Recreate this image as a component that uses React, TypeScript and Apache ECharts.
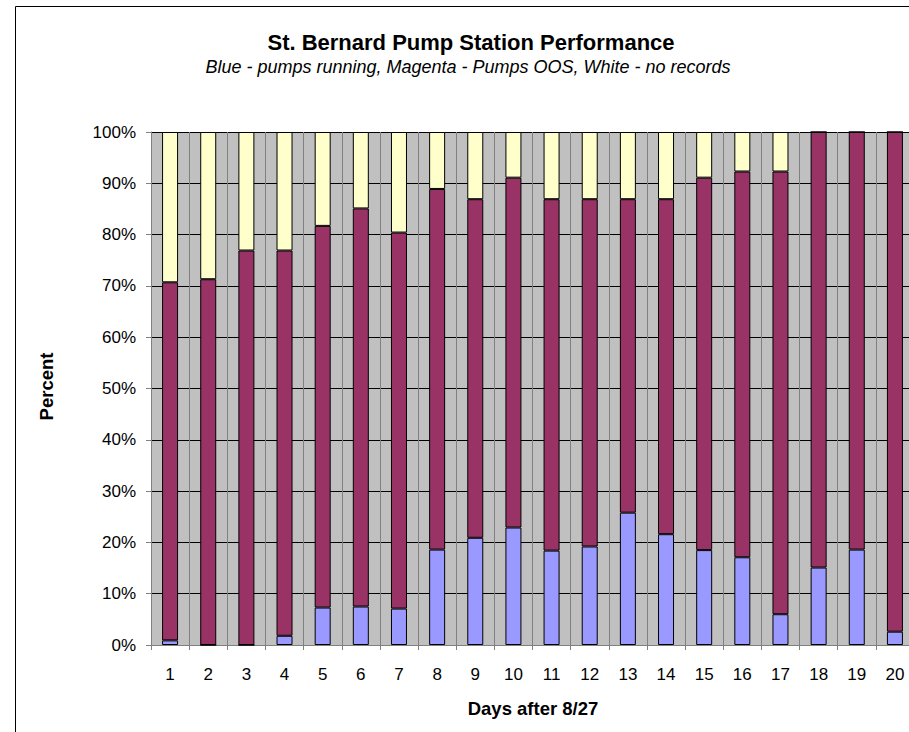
import React, { useEffect, useRef } from "react";
import * as echarts from "echarts";

const days: string[] = ["1","2","3","4","5","6","7","8","9","10","11","12","13","14","15","16","17","18","19","20"];
const pumpsRunning: number[] = [0.9, 0, 0, 1.8, 7.3, 7.5, 7.1, 18.6, 20.9, 22.9, 18.4, 19.2, 25.8, 21.6, 18.5, 17.1, 6.0, 15.1, 18.6, 2.6];
const pumpsOOS: number[] = [69.8, 71.3, 76.9, 75.1, 74.4, 77.6, 73.3, 70.3, 66.0, 68.2, 68.5, 67.7, 61.1, 65.3, 72.6, 75.2, 86.3, 84.9, 81.4, 97.4];
const noRecords: number[] = [29.3, 28.7, 23.1, 23.1, 18.3, 14.9, 19.6, 11.1, 13.1, 8.9, 13.1, 13.1, 13.1, 13.1, 8.9, 7.7, 7.7, 0, 0, 0];
const titleText = "St. Bernard Pump Station Performance";
const subtitleText = "Blue - pumps running, Magenta - Pumps OOS, White - no records";
const xAxisName = "Days after 8/27";
const yAxisName = "Percent";

const FONT = "Arial, 'Liberation Sans', sans-serif";

export default function App() {
  const ref = useRef<HTMLDivElement>(null);
  useEffect(() => {
    document.body.style.margin = "0";
    document.body.style.overflow = "hidden";
    document.documentElement.style.overflow = "hidden";
    if (!ref.current) return;
    const chart = echarts.init(ref.current, null, { renderer: "svg" });
    const barStyle = (color: string) => ({
      color,
      borderColor: "#000000",
      borderWidth: 1,
    });
    chart.setOption({
      animation: false,
      backgroundColor: "#ffffff",
      textStyle: { fontFamily: FONT },
      grid: {
        left: 151,
        top: 132,
        width: 763,
        height: 513,
        show: true,
        backgroundColor: "#C0C0C0",
        borderWidth: 0,
        containLabel: false,
      },
      xAxis: {
        type: "category",
        data: days,
        boundaryGap: true,
        axisLine: { show: true, lineStyle: { color: "#808080", width: 1 } },
        axisTick: { show: true, length: 5, lineStyle: { color: "#808080" } },
        splitLine: { show: true, lineStyle: { color: "#808080", width: 1 } },
        axisLabel: {
          color: "#000000",
          fontSize: 17,
          lineHeight: 17,
          fontFamily: FONT,
          margin: 21,
          interval: 0,
        },
      },
      yAxis: {
        type: "value",
        min: 0,
        max: 100,
        interval: 10,
        axisLine: { show: true, lineStyle: { color: "#808080", width: 1 } },
        axisTick: { show: true, length: 5, lineStyle: { color: "#808080" } },
        splitLine: { show: true, lineStyle: { color: "#000000", width: 1 } },
        axisLabel: {
          color: "#000000",
          fontSize: 17,
          fontFamily: FONT,
          margin: 15,
          formatter: "{value}%",
        },
      },
      series: [
        {
          name: "Pumps running",
          type: "bar",
          stack: "total",
          barWidth: 16,
          data: pumpsRunning,
          itemStyle: barStyle("#9999FF"),
        },
        {
          name: "Pumps OOS",
          type: "bar",
          stack: "total",
          barWidth: 16,
          data: pumpsOOS,
          itemStyle: barStyle("#993366"),
        },
        {
          name: "No records",
          type: "bar",
          stack: "total",
          barWidth: 16,
          data: noRecords,
          itemStyle: barStyle("#FFFFCC"),
        },
      ],
      graphic: [
        {
          type: "rect",
          shape: { x: 15.5, y: 6.5, width: 1200, height: 1200 },
          style: { fill: "none", stroke: "#000000", lineWidth: 1 },
          silent: true,
          z: 100,
        },
        {
          type: "text",
          x: 471,
          y: 42.5,
          style: {
            text: titleText,
            font: `bold 22px ${FONT}`,
            fill: "#000000",
            align: "center",
            verticalAlign: "middle",
          },
        },
        {
          type: "text",
          x: 468,
          y: 67,
          style: {
            text: subtitleText,
            font: `italic 18px ${FONT}`,
            fill: "#000000",
            align: "center",
            verticalAlign: "middle",
          },
        },
        {
          type: "text",
          x: 533,
          y: 708.5,
          style: {
            text: xAxisName,
            font: `bold 18.5px ${FONT}`,
            fill: "#000000",
            align: "center",
            verticalAlign: "middle",
          },
        },
        {
          type: "text",
          x: 46,
          y: 386.5,
          rotation: Math.PI / 2,
          style: {
            text: yAxisName,
            font: `bold 18.5px ${FONT}`,
            fill: "#000000",
            align: "center",
            verticalAlign: "middle",
          },
        },
      ],
    });
    return () => chart.dispose();
  }, []);
  return <div ref={ref} style={{ width: 940, height: 760 }} />;
}
